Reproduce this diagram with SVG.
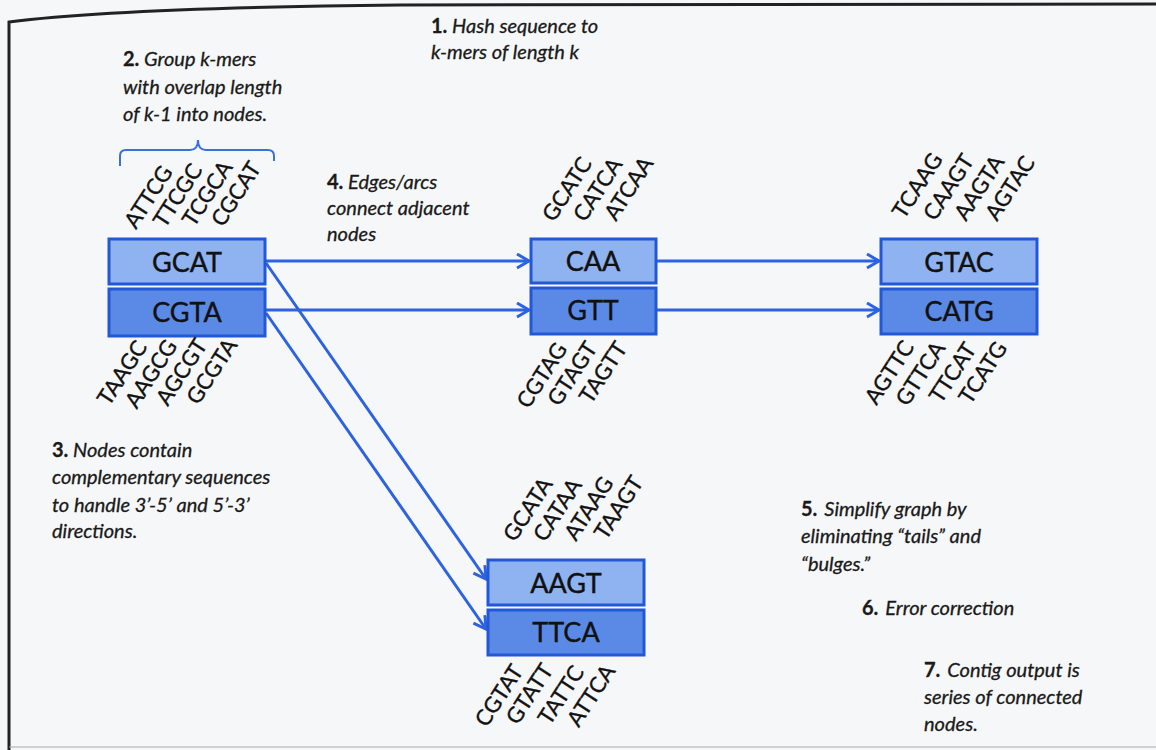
<svg xmlns="http://www.w3.org/2000/svg" width="1156" height="750" viewBox="0 0 1156 750">
<style>
.note{font-family:Lato,"Open Sans",sans-serif;font-style:italic;font-size:20px;fill:#1a1a1a;stroke:#1a1a1a;stroke-width:0.3}
.num{font-style:normal;font-weight:bold}
.box1{fill:#8fb3f0;stroke:#2258d6;stroke-width:3}
.box2{fill:#5b8ae6;stroke:#2258d6;stroke-width:3}
.lbl{font-family:Lato,"Open Sans",sans-serif;font-size:27px;fill:#111;stroke:#111;stroke-width:0.4;text-anchor:middle}
.km{font-family:Lato,"Open Sans",sans-serif;font-size:22px;fill:#111;stroke:#111;stroke-width:0.35}
.kme{font-family:Lato,"Open Sans",sans-serif;font-size:22px;fill:#111;stroke:#111;stroke-width:0.35;text-anchor:end}
.edge{stroke:#2d62e0;stroke-width:3;fill:none}
</style>
<defs>
<marker id="arr" markerUnits="userSpaceOnUse" markerWidth="16" markerHeight="18" refX="13" refY="8" orient="auto" viewBox="0 0 16 18">
<path d="M1,1 L13,8 L1,15" fill="none" stroke="#2d62e0" stroke-width="3"/>
</marker>
</defs>
<rect x="0" y="0" width="1156" height="750" fill="#f6f7f8"/>
<path d="M9,750 L9,22 Q120,8 400,5 L1156,4" fill="none" stroke="#222" stroke-width="3"/>
<line x1="9" y1="747" x2="1156" y2="747" stroke="#aaa" stroke-width="1"/>

<g id="notes">
<text class="note" x="431" y="33"><tspan class="num">1.</tspan> Hash sequence to</text>
<text class="note" x="431" y="59">k-mers of length k</text>
<text class="note" x="123" y="66"><tspan class="num">2.</tspan> Group k-mers</text>
<text class="note" x="123" y="94">with overlap length</text>
<text class="note" x="123" y="121">of k-1 into nodes.</text>
<text class="note" x="327" y="189"><tspan class="num">4.</tspan> Edges/arcs</text>
<text class="note" x="327" y="215">connect adjacent</text>
<text class="note" x="327" y="241">nodes</text>
<text class="note" x="52" y="457"><tspan class="num">3.</tspan> Nodes contain</text>
<text class="note" x="52" y="484">complementary sequences</text>
<text class="note" x="52" y="512">to handle 3’-5’ and 5’-3’</text>
<text class="note" x="52" y="538">directions.</text>
<text class="note" x="801" y="516"><tspan class="num">5.</tspan><tspan dx="7">Simplify graph by</tspan></text>
<text class="note" x="801" y="543">eliminating “tails” and</text>
<text class="note" x="801" y="571">“bulges.”</text>
<text class="note" x="862" y="615"><tspan class="num">6.</tspan><tspan dx="7">Error correction</tspan></text>
<text class="note" x="924" y="677"><tspan class="num">7.</tspan><tspan dx="7">Contig output is</tspan></text>
<text class="note" x="924" y="704">series of connected</text>
<text class="note" x="924" y="731">nodes.</text>
</g>

<g id="bracket">
<path d="M120,166 L120,156 Q120,150 126,150 L190,150 Q198,150 198,140 Q198,150 206,150 L268,150 Q274,150 274,156 L274,161" fill="none" stroke="#3a6fdc" stroke-width="2"/>
</g>

<g id="connectors">
<line class="edge" x1="266" y1="261" x2="529" y2="261" marker-end="url(#arr)"/>
<line class="edge" x1="266" y1="310" x2="529" y2="310" marker-end="url(#arr)"/>
<line class="edge" x1="657" y1="261" x2="879" y2="261" marker-end="url(#arr)"/>
<line class="edge" x1="657" y1="310" x2="879" y2="310" marker-end="url(#arr)"/>
<line class="edge" x1="266" y1="263" x2="486" y2="579" marker-end="url(#arr)"/>
<line class="edge" x1="266" y1="313" x2="486" y2="629" marker-end="url(#arr)"/>
</g>

<g id="node-GCAT-CGTA">
<rect class="box1" x="109" y="239" width="156" height="45"/>
<rect class="box2" x="109" y="289" width="156" height="47"/>
<text class="lbl" x="187" y="272">GCAT</text>
<text class="lbl" x="187" y="322">CGTA</text>
<text class="km" transform="translate(136,230) rotate(-57)">ATTCG</text>
<text class="km" transform="translate(165,229) rotate(-57)">TTCGC</text>
<text class="km" transform="translate(194,228) rotate(-57)">TCGCA</text>
<text class="km" transform="translate(223,228) rotate(-57)">CGCAT</text>
<text class="kme" transform="translate(148,347) rotate(-57)">TAAGC</text>
<text class="kme" transform="translate(178,346) rotate(-57)">AAGCG</text>
<text class="kme" transform="translate(208,345) rotate(-57)">AGCGT</text>
<text class="kme" transform="translate(238,345) rotate(-57)">GCGTA</text>
</g>

<g id="node-CAA-GTT">
<rect class="box1" x="531" y="239" width="125" height="44"/>
<rect class="box2" x="531" y="288" width="125" height="46"/>
<text class="lbl" x="593" y="271">CAA</text>
<text class="lbl" x="593" y="320">GTT</text>
<text class="km" transform="translate(554,223) rotate(-57)">GCATC</text>
<text class="km" transform="translate(585,223) rotate(-57)">CATCA</text>
<text class="km" transform="translate(616,222) rotate(-57)">ATCAA</text>
<text class="kme" transform="translate(568,349) rotate(-57)">CGTAG</text>
<text class="kme" transform="translate(598,348) rotate(-57)">GTAGT</text>
<text class="kme" transform="translate(628,348) rotate(-57)">TAGTT</text>
</g>

<g id="node-GTAC-CATG">
<rect class="box1" x="881" y="239" width="156" height="45"/>
<rect class="box2" x="881" y="289" width="156" height="45"/>
<text class="lbl" x="959" y="272">GTAC</text>
<text class="lbl" x="959" y="321">CATG</text>
<text class="km" transform="translate(904,220) rotate(-57)">TCAAG</text>
<text class="km" transform="translate(935,222) rotate(-57)">CAAGT</text>
<text class="km" transform="translate(966,222) rotate(-57)">AAGTA</text>
<text class="km" transform="translate(997,222) rotate(-57)">AGTAC</text>
<text class="kme" transform="translate(915,347) rotate(-57)">AGTTC</text>
<text class="kme" transform="translate(946,348) rotate(-57)">GTTCA</text>
<text class="kme" transform="translate(977,349) rotate(-57)">TTCAT</text>
<text class="kme" transform="translate(1008,348) rotate(-57)">TCATG</text>
</g>

<g id="node-AAGT-TTCA">
<rect class="box1" x="488" y="560" width="156" height="45"/>
<rect class="box2" x="488" y="610" width="156" height="45"/>
<text class="lbl" x="566" y="593">AAGT</text>
<text class="lbl" x="566" y="642">TTCA</text>
<text class="km" transform="translate(515,543) rotate(-57)">GCATA</text>
<text class="km" transform="translate(545,543) rotate(-57)">CATAA</text>
<text class="km" transform="translate(576,542) rotate(-57)">ATAAG</text>
<text class="km" transform="translate(606,541) rotate(-57)">TAAGT</text>
<text class="kme" transform="translate(524,671) rotate(-57)">CGTAT</text>
<text class="kme" transform="translate(554,670) rotate(-57)">GTATT</text>
<text class="kme" transform="translate(585,672) rotate(-57)">TATTC</text>
<text class="kme" transform="translate(616,671) rotate(-57)">ATTCA</text>
</g>
</svg>
